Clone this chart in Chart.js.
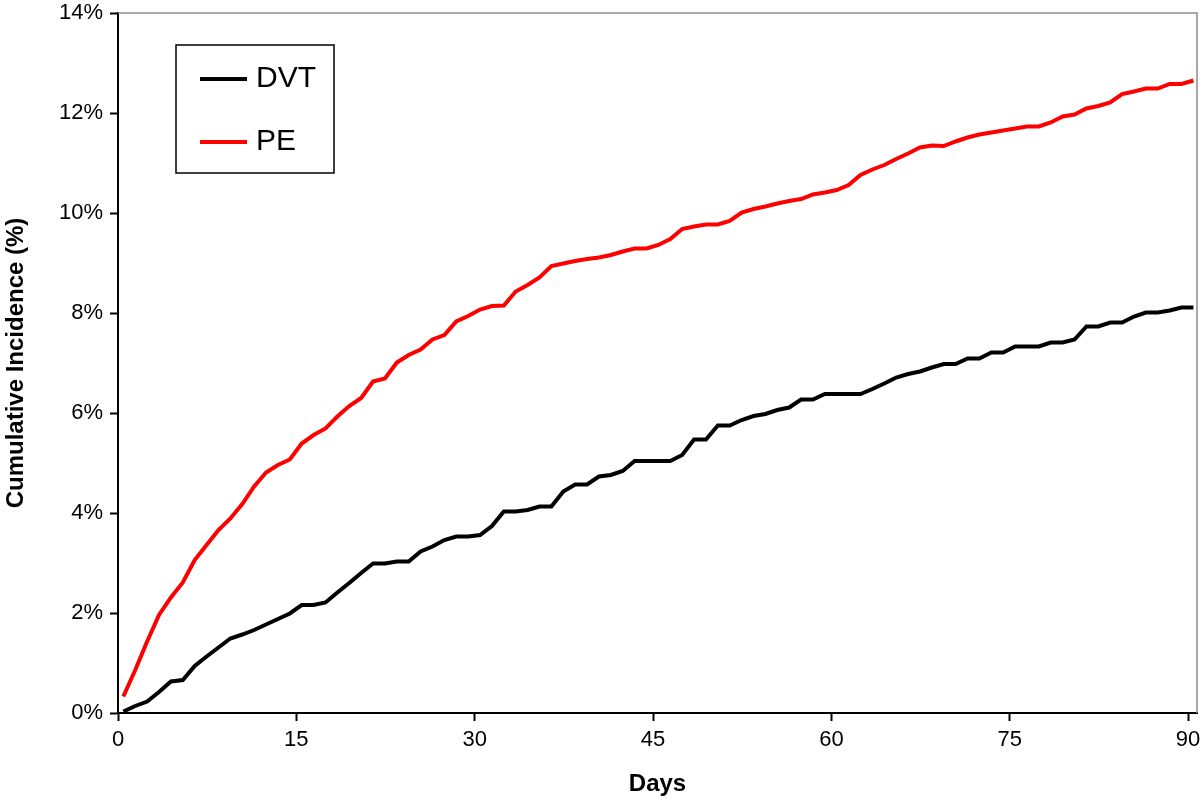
<!DOCTYPE html>
<html>
<head>
<meta charset="utf-8">
<script src="https://cdn.jsdelivr.net/npm/chart.js@4"></script>
<style>
  html, body { margin: 0; padding: 0; background: #fff; }
  #wrap { width: 1200px; height: 800px; position: relative; }
</style>
</head>
<body>
<div id="wrap"><canvas id="chart"></canvas></div>
<script>
/* Cumulative incidence of DVT and PE over 90 days. */

const SERIES_NAMES = ["DVT", "PE"];
const COLORS = ["#000000", "#ff0000"];
const X_TICKS = [0, 15, 30, 45, 60, 75, 90];
const Y_TICKS = [0, 2, 4, 6, 8, 10, 12, 14];

// cumulative incidence (%), one reading per day
const dvt = [
  0.03, 0.14, 0.23, 0.42, 0.63, 0.66, 0.94, 1.13, 1.31, 1.49,
  1.57, 1.66, 1.77, 1.88, 1.99, 2.16, 2.16, 2.21, 2.41, 2.60,
  2.80, 2.99, 2.99, 3.03, 3.03, 3.23, 3.33, 3.46, 3.53, 3.53,
  3.56, 3.74, 4.03, 4.03, 4.06, 4.13, 4.13, 4.43, 4.57, 4.57,
  4.73, 4.76, 4.84, 5.04, 5.04, 5.04, 5.04, 5.16, 5.47, 5.47,
  5.75, 5.75, 5.86, 5.94, 5.98, 6.06, 6.11, 6.27, 6.27, 6.38,
  6.38, 6.38, 6.38, 6.48, 6.59, 6.71, 6.78, 6.83, 6.91, 6.98,
  6.98, 7.09, 7.09, 7.21, 7.21, 7.33, 7.33, 7.33, 7.41, 7.41,
  7.47, 7.73, 7.73, 7.81, 7.81, 7.93, 8.01, 8.01, 8.05, 8.11,
  8.11,
];

const pe = [
  0.33, 0.86, 1.43, 1.96, 2.31, 2.61, 3.06, 3.36, 3.66, 3.89,
  4.18, 4.53, 4.81, 4.96, 5.07, 5.39, 5.56, 5.69, 5.93, 6.14,
  6.30, 6.63, 6.69, 7.01, 7.16, 7.27, 7.47, 7.56, 7.83, 7.94,
  8.07, 8.14, 8.15, 8.43, 8.56, 8.71, 8.94, 8.99, 9.04, 9.08,
  9.11, 9.16, 9.23, 9.29, 9.29, 9.36, 9.48, 9.68, 9.73, 9.77,
  9.77, 9.84, 10.01, 10.08, 10.13, 10.19, 10.24, 10.28, 10.37, 10.41,
  10.46, 10.56, 10.76, 10.87, 10.96, 11.08, 11.19, 11.31, 11.35, 11.34,
  11.43, 11.51, 11.57, 11.61, 11.65, 11.69, 11.73, 11.73, 11.81, 11.93,
  11.97, 12.09, 12.14, 12.21, 12.38, 12.43, 12.49, 12.49, 12.58, 12.58,
  12.65,
];

// day positions (readings sit a little after each whole day)
const days = dvt.map((_, i) => i + 0.45);

const FONT = "'Liberation Sans', Arial, Helvetica, sans-serif";

const frameAndLegend = {
  id: "frameAndLegend",
  afterDraw(chart) {
    const { ctx, chartArea: a } = chart;
    ctx.save();
    // grey top/right frame
    ctx.strokeStyle = "#8c8c8c";
    ctx.lineWidth = 1.5;
    ctx.beginPath();
    ctx.moveTo(a.left, a.top);
    ctx.lineTo(a.right, a.top);
    ctx.lineTo(a.right, a.bottom);
    ctx.stroke();

    // boxed legend in upper left
    const bx = 176, by = 45, bw = 158, bh = 128;
    ctx.fillStyle = "#fff";
    ctx.fillRect(bx, by, bw, bh);
    ctx.strokeStyle = "#000";
    ctx.lineWidth = 1.5;
    ctx.strokeRect(bx, by, bw, bh);
    ctx.font = `30px ${FONT}`;
    ctx.textBaseline = "middle";
    chart.data.datasets.forEach((ds, i) => {
      const y = by + 34 + i * 63;
      ctx.strokeStyle = ds.borderColor;
      ctx.lineWidth = 4;
      ctx.beginPath();
      ctx.moveTo(bx + 24, y);
      ctx.lineTo(bx + 71, y);
      ctx.stroke();
      ctx.fillStyle = "#000";
      ctx.fillText(ds.label, bx + 80, y);
    });
    ctx.restore();
  },
};

new Chart(document.getElementById("chart"), {
  type: "line",
  data: {
    datasets: [
      { label: SERIES_NAMES[0], data: days.map((d, i) => ({ x: d, y: dvt[i] })), borderColor: COLORS[0] },
      { label: SERIES_NAMES[1], data: days.map((d, i) => ({ x: d, y: pe[i] })), borderColor: COLORS[1] },
    ].map((ds) => ({ ...ds, borderWidth: 4, pointRadius: 0, tension: 0, fill: false, backgroundColor: ds.borderColor })),
  },
  options: {
    responsive: true,
    maintainAspectRatio: false,
    animation: false,
    layout: { padding: { left: 0, right: 3, top: 13, bottom: 0 } },
    plugins: { legend: { display: false }, tooltip: { enabled: false } },
    scales: {
      x: {
        type: "linear",
        min: 0,
        max: 90.75,
        afterFit: (s) => { s.height = 87; s.paddingLeft = 0; s.paddingRight = 0; },
        afterBuildTicks: (s) => { s.ticks = X_TICKS.map((v) => ({ value: v })); },
        border: { color: "#000", width: 2 },
        grid: { drawOnChartArea: false, drawTicks: true, tickLength: 8, tickColor: "#000", tickWidth: 2 },
        ticks: { color: "#000", padding: 6, font: { family: FONT, size: 22 }, maxRotation: 0 },
        title: { display: true, text: "Days", color: "#000", font: { family: FONT, size: 24, weight: "bold" }, padding: { top: 4, bottom: 1 } },
      },
      y: {
        min: 0,
        max: 14,
        afterFit: (s) => { s.width = 118; s.paddingTop = 0; s.paddingBottom = 0; },
        afterBuildTicks: (s) => { s.ticks = Y_TICKS.map((v) => ({ value: v })); },
        border: { color: "#000", width: 2 },
        grid: { drawOnChartArea: false, drawTicks: true, tickLength: 8, tickColor: "#000", tickWidth: 2 },
        ticks: { color: "#000", padding: 7, font: { family: FONT, size: 22 }, callback: (v) => v + "%" },
        title: { display: true, text: "Cumulative Incidence (%)", color: "#000", font: { family: FONT, size: 24, weight: "bold" }, padding: { top: 2, bottom: 2 } },
      },
    },
  },
  plugins: [frameAndLegend],
});
</script>
</body>
</html>
